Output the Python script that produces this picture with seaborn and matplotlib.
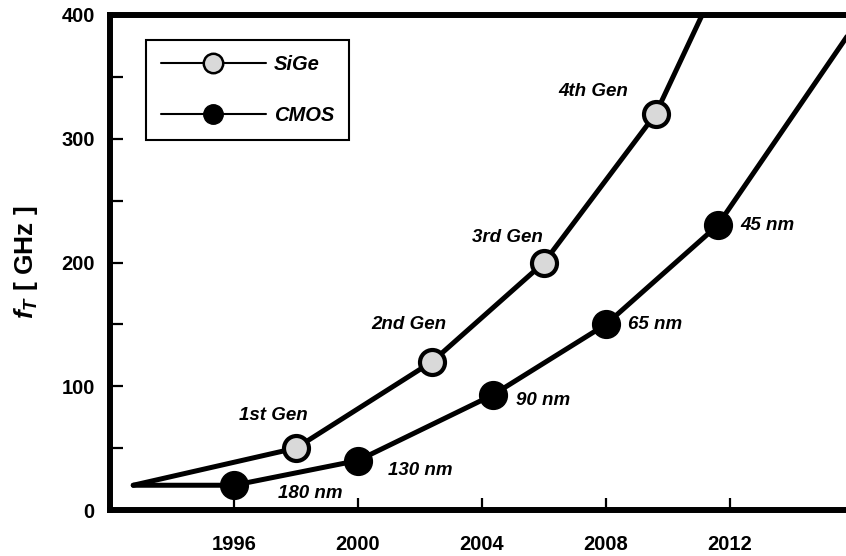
import matplotlib
matplotlib.use("Agg")
import matplotlib.pyplot as plt
from matplotlib.lines import Line2D
from matplotlib.ticker import MultipleLocator
import seaborn as sns

# данные
sige_years = [1992.75, 1998, 2002.4, 2006, 2009.6, 2011.1]
sige_ft = [20, 50, 120, 200, 320, 400]
sige_labels = ['1st Gen', '2nd Gen', '3rd Gen', '4th Gen']

cmos_years = [1992.75, 1996, 2000, 2004.35, 2008, 2011.6, 2016.25]
cmos_ft = [20, 20, 40, 93, 150, 230, 400]
cmos_labels = ['180 nm', '130 nm', '90 nm', '65 nm', '45 nm']

year_ticks = [1996, 2000, 2004, 2008, 2012]
ft_ticks = [0, 100, 200, 300, 400]

# сдвиги подписей в пикселях (центр для SiGe, левый край для CMOS)
sige_offsets = [(-23, 33), (-24, 37), (-37, 25), (-62, 22)]
cmos_offsets = [(44, -8), (30, -10), (23, -6), (22, 0), (23, 0)]

sns.set_style('ticks')
plt.rcParams['font.family'] = ['Liberation Sans', 'DejaVu Sans']
plt.rcParams['font.weight'] = 'bold'
plt.rcParams['mathtext.fontset'] = 'custom'
plt.rcParams['mathtext.it'] = 'Liberation Sans:italic:bold'
plt.rcParams['mathtext.rm'] = 'Liberation Sans:bold'
for key in ['text.color', 'axes.labelcolor', 'xtick.color', 'ytick.color',
            'axes.edgecolor']:
    plt.rcParams[key] = 'black'

fig = plt.figure(figsize=(8.46, 5.56), dpi=100)
ax = fig.add_axes([110 / 846, 1 - 510 / 556, 744 / 846, 495 / 556])

line_kw = dict(color='black', lw=3.6, markevery=[1, 2, 3, 4], marker='o',
               markeredgecolor='black')
sns.lineplot(x=sige_years, y=sige_ft, ax=ax, markersize=18,
             markerfacecolor='#d9d9d9', markeredgewidth=3, **line_kw)
line_kw['markevery'] = [1, 2, 3, 4, 5]
sns.lineplot(x=cmos_years, y=cmos_ft, ax=ax, markersize=20,
             markerfacecolor='black', markeredgewidth=1, **line_kw)
for ln in ax.lines:
    ln.set_solid_joinstyle('round')
    ln.set_solid_capstyle('round')

txt = dict(fontsize=13.5, fontweight='bold', fontstyle='italic',
           textcoords='offset pixels', va='center', color='black')
for i, lab in enumerate(sige_labels):
    ax.annotate(lab, (sige_years[i + 1], sige_ft[i + 1]), xytext=sige_offsets[i],
                ha='center', **txt)
for i, lab in enumerate(cmos_labels):
    ax.annotate(lab, (cmos_years[i + 1], cmos_ft[i + 1]), xytext=cmos_offsets[i],
                ha='left', **txt)

ax.set_xlim(1992, 2016)
ax.set_ylim(0, 400)
ax.set_xticks(year_ticks)
ax.set_yticks(ft_ticks)
ax.yaxis.set_minor_locator(MultipleLocator(50))
ax.tick_params(axis='both', which='both', direction='in', length=9, width=1.6,
               labelsize=14.5, colors='black')
ax.tick_params(axis='x', pad=18)
ax.tick_params(axis='y', pad=11)
for lab in ax.get_xticklabels() + ax.get_yticklabels():
    lab.set_fontweight('bold')

for side in ['left', 'bottom', 'top']:
    ax.spines[side].set_linewidth(4.3)
    ax.spines[side].set_color('black')
ax.spines['right'].set_visible(False)

ax.set_ylabel(r'$f_T$ [ GHz ]', fontsize=19, fontweight='bold')
ax.yaxis.set_label_coords(-0.094, 0.5)

handles = [
    Line2D([0], [0], color='black', lw=1.5, marker='o', markersize=14,
           markerfacecolor='#d9d9d9', markeredgecolor='black', markeredgewidth=1.8),
    Line2D([0], [0], color='black', lw=1.5, marker='o', markersize=14,
           markerfacecolor='black', markeredgecolor='black'),
]
leg = ax.legend(handles, ['SiGe', 'CMOS'], loc='upper left',
                bbox_to_anchor=(36 / 744, 1 - 25 / 495), fancybox=False,
                edgecolor='black', framealpha=1, handlelength=5.2,
                handletextpad=0.4, labelspacing=1.6, borderpad=0.75,
                borderaxespad=0, prop=dict(size=14.5, weight='bold', style='italic'))
leg.get_frame().set_linewidth(1.5)

fig.savefig('out.png', dpi=100)
